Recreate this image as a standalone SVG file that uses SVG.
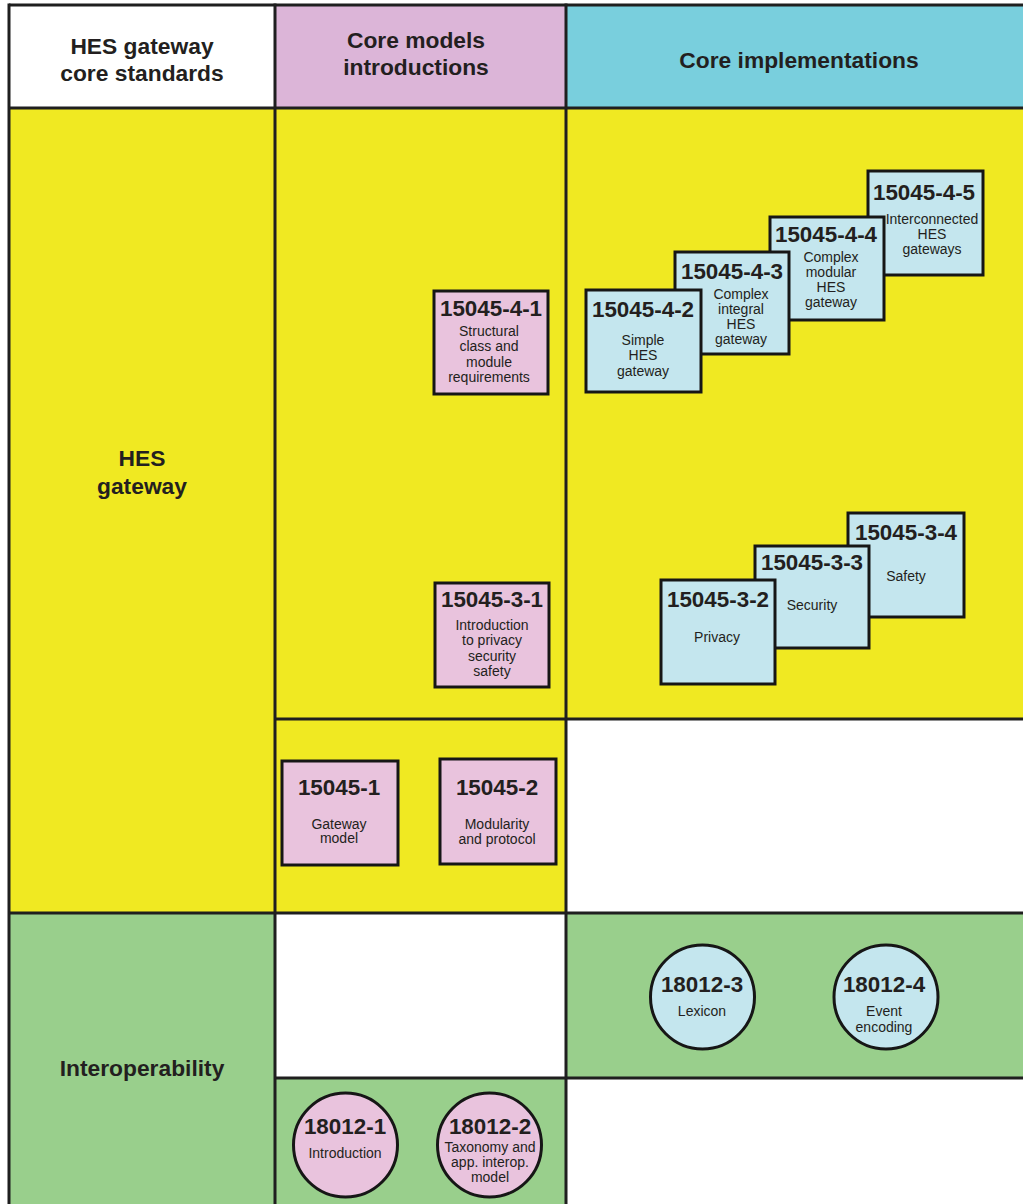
<svg xmlns="http://www.w3.org/2000/svg" width="1023" height="1204" viewBox="0 0 1023 1204">
<style>
.grid{stroke:#1f1f1f;stroke-width:3;fill:none}
.box{stroke:#161616;stroke-width:3}
.blue{fill:#C4E6EE}
.pink{fill:#E9C3DD}
text{font-family:"Liberation Sans",Arial,sans-serif;fill:#231F20;text-anchor:middle}
.h{font-size:22.8px;font-weight:bold}
.t{font-size:22.4px;font-weight:bold}
.s{font-size:14px}
</style>
<g id="background">
<rect x="0" y="0" width="1023" height="1204" fill="#ffffff"/>
<rect x="9" y="5" width="266" height="103" fill="#ffffff"/>
<rect x="275" y="5" width="291" height="103" fill="#DCB5D8"/>
<rect x="566" y="5" width="457" height="103" fill="#79CFDD"/>
<rect x="9" y="108" width="557" height="805" fill="#F0E922"/>
<rect x="566" y="108" width="457" height="611" fill="#F0E922"/>
<rect x="9" y="913" width="266" height="291" fill="#99CF8C"/>
<rect x="566" y="913" width="457" height="165" fill="#99CF8C"/>
<rect x="275" y="1078" width="291" height="126" fill="#99CF8C"/>
</g>
<g id="connectors" class="grid">
<line x1="9" y1="5" x2="1023" y2="5"/>
<line x1="9" y1="3.5" x2="9" y2="1204"/>
<line x1="275" y1="3.5" x2="275" y2="1204"/>
<line x1="566" y1="3.5" x2="566" y2="1204"/>
<line x1="9" y1="108" x2="1023" y2="108"/>
<line x1="275" y1="719" x2="1023" y2="719"/>
<line x1="9" y1="913" x2="1023" y2="913"/>
<line x1="275" y1="1078" x2="1023" y2="1078"/>
</g>
<g id="headers">
<text class="h" x="142" y="54">HES gateway</text>
<text class="h" x="142" y="81">core standards</text>
<text class="h" x="416" y="48">Core models</text>
<text class="h" x="416" y="75">introductions</text>
<text class="h" x="799" y="68">Core implementations</text>
<text class="h" x="142" y="466">HES</text>
<text class="h" x="142" y="494">gateway</text>
<text class="h" x="142" y="1076">Interoperability</text>
</g>
<g id="n15045-4-1">
<rect class="box pink" x="434" y="291" width="114" height="103"/>
<text class="t" x="491" y="316">15045-4-1</text>
<text class="s" x="489" y="336">Structural</text>
<text class="s" x="489" y="351">class and</text>
<text class="s" x="489" y="367">module</text>
<text class="s" x="489" y="382">requirements</text>
</g>
<g id="n15045-3-1">
<rect class="box pink" x="435" y="583" width="114" height="104"/>
<text class="t" x="492" y="607">15045-3-1</text>
<text class="s" x="492" y="630">Introduction</text>
<text class="s" x="492" y="645">to privacy</text>
<text class="s" x="492" y="661">security</text>
<text class="s" x="492" y="676">safety</text>
</g>
<g id="n15045-4-5">
<rect class="box blue" x="868" y="171" width="115" height="104"/>
<text class="t" x="924" y="200">15045-4-5</text>
<text class="s" x="932" y="224">Interconnected</text>
<text class="s" x="932" y="239">HES</text>
<text class="s" x="932" y="254">gateways</text>
</g>
<g id="n15045-4-4">
<rect class="box blue" x="770" y="217" width="114" height="103"/>
<text class="t" x="826" y="242">15045-4-4</text>
<text class="s" x="831" y="262">Complex</text>
<text class="s" x="831" y="277">modular</text>
<text class="s" x="831" y="292">HES</text>
<text class="s" x="831" y="307">gateway</text>
</g>
<g id="n15045-4-3">
<rect class="box blue" x="675" y="252" width="114" height="102"/>
<text class="t" x="732" y="279">15045-4-3</text>
<text class="s" x="741" y="299">Complex</text>
<text class="s" x="741" y="314">integral</text>
<text class="s" x="741" y="329">HES</text>
<text class="s" x="741" y="344">gateway</text>
</g>
<g id="n15045-4-2">
<rect class="box blue" x="586" y="290" width="115" height="102"/>
<text class="t" x="643" y="317">15045-4-2</text>
<text class="s" x="643" y="345">Simple</text>
<text class="s" x="643" y="360">HES</text>
<text class="s" x="643" y="376">gateway</text>
</g>
<g id="n15045-3-4">
<rect class="box blue" x="848" y="513" width="116" height="104"/>
<text class="t" x="906" y="540">15045-3-4</text>
<text class="s" x="906" y="581">Safety</text>
</g>
<g id="n15045-3-3">
<rect class="box blue" x="755" y="546" width="114" height="102"/>
<text class="t" x="812" y="570">15045-3-3</text>
<text class="s" x="812" y="610">Security</text>
</g>
<g id="n15045-3-2">
<rect class="box blue" x="661" y="580" width="114" height="104"/>
<text class="t" x="718" y="607">15045-3-2</text>
<text class="s" x="717" y="642">Privacy</text>
</g>
<g id="n15045-1">
<rect class="box pink" x="282" y="761" width="116" height="104"/>
<text class="t" x="339" y="795">15045-1</text>
<text class="s" x="339" y="829">Gateway</text>
<text class="s" x="339" y="843">model</text>
</g>
<g id="n15045-2">
<rect class="box pink" x="440" y="759" width="116" height="105"/>
<text class="t" x="497" y="795">15045-2</text>
<text class="s" x="497" y="829">Modularity</text>
<text class="s" x="497" y="844">and protocol</text>
</g>
<g id="n18012-3">
<circle class="box blue" cx="702.5" cy="997" r="52"/>
<text class="t" x="702" y="992">18012-3</text>
<text class="s" x="702" y="1016">Lexicon</text>
</g>
<g id="n18012-4">
<circle class="box blue" cx="886" cy="997" r="52"/>
<text class="t" x="884" y="992">18012-4</text>
<text class="s" x="884" y="1016">Event</text>
<text class="s" x="884" y="1032">encoding</text>
</g>
<g id="n18012-1">
<circle class="box pink" cx="345.5" cy="1145" r="52"/>
<text class="t" x="345" y="1134">18012-1</text>
<text class="s" x="345" y="1158">Introduction</text>
</g>
<g id="n18012-2">
<circle class="box pink" cx="489.5" cy="1145" r="52"/>
<text class="t" x="490" y="1134">18012-2</text>
<text class="s" x="490" y="1152">Taxonomy and</text>
<text class="s" x="490" y="1167">app. interop.</text>
<text class="s" x="490" y="1182">model</text>
</g>
</svg>
